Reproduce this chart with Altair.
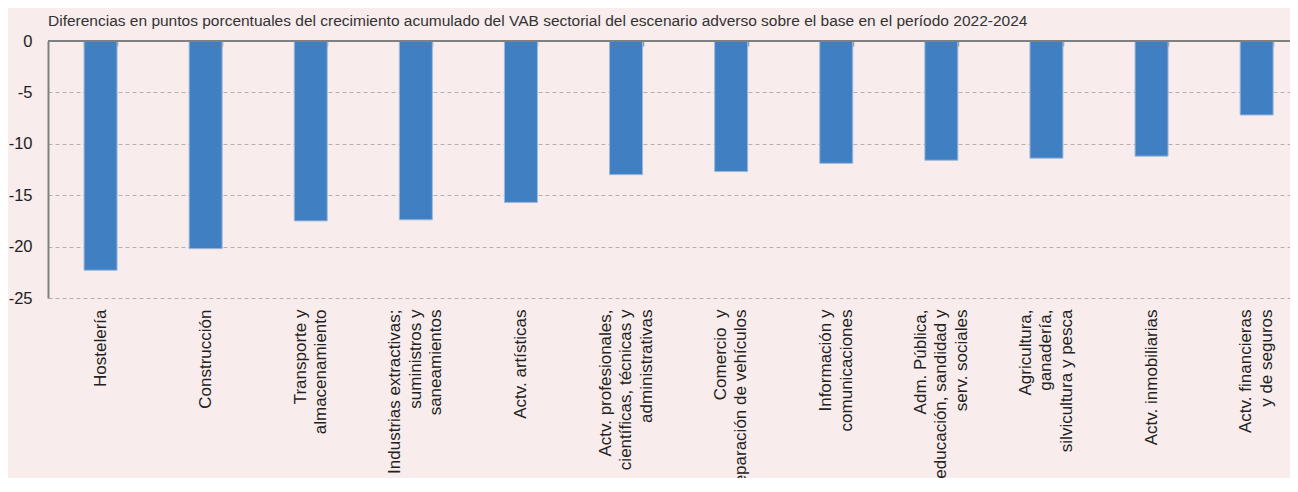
import altair as alt
import pandas as pd

categories = [
    "Hostelería",
    "Construcción",
    "Transporte y|almacenamiento",
    "Industrias extractivas;|suministros y|saneamientos",
    "Actv. artísticas",
    "Actv. profesionales,|científicas, técnicas y|administrativas",
    "Comercio \u00a0y|reparación de vehículos",
    "Información y|comunicaciones",
    "Adm. Pública,|educación, sandidad y|serv. sociales",
    "Agricultura,|ganadería,|silvicultura y pesca",
    "Actv. inmobiliarias",
    "Actv. financieras|y de seguros",
]
values = [-22.3, -20.2, -17.5, -17.4, -15.7, -13.0, -12.7, -11.9, -11.6, -11.4, -11.2, -7.2]
y_ticks = [0, -5, -10, -15, -20, -25]

title_text = ("Diferencias en puntos porcentuales del crecimiento acumulado del VAB sectorial "
              "del escenario adverso sobre el base en el período 2022-2024")

df = pd.DataFrame({"sector": categories, "valor": values})

FONT = "Liberation Sans"
BG = "#F8ECEC"
STEP = 105.1
LH = 20.5

xscale = alt.Scale(range=[0, STEP * len(categories)], paddingInner=0.686, paddingOuter=0.343)
yscale = alt.Scale(domain=[-25, 0], nice=False, zero=False)

yaxis = alt.Axis(values=y_ticks, title=None, ticks=False, tickSize=0,
                 labelPadding=16, labelFontSize=16.5, labelColor="#222222",
                 labelFont=FONT, labelExpr="toString(datum.value)",
                 domainColor="#808080", domainWidth=2,
                 grid=True, gridColor="#B5B0B0", gridDash=[4, 3], gridWidth=1)

nlines = "length(split(datum.value, '|'))"
label_offset = {
    "condition": [
        {"test": f"{nlines} == 3", "value": -LH},
        {"test": f"{nlines} == 2", "value": -LH / 2},
    ],
    "value": 0,
}

base = alt.Chart(df)

bars = base.mark_bar(color="#4080C2", stroke="#9DB9DD", strokeWidth=1).encode(
    x=alt.X("sector:N", sort=None, scale=xscale,
            axis=alt.Axis(orient="bottom", title=None, domain=False, ticks=False,
                          labelAngle=-90, labelPadding=11, labelFontSize=17,
                          labelLineHeight=LH, labelLimit=500, labelOverlap=False,
                          labelColor="#222222", labelFont=FONT,
                          labelOffset=label_offset,
                          labelExpr="split(datum.label, '|')")),
    y=alt.Y("valor:Q", scale=yscale, axis=yaxis),
)

ghost = base.mark_point(opacity=0).encode(
    x=alt.X("sector:N", sort=None, scale=xscale,
            axis=alt.Axis(orient="top", title=None, labels=False, domain=False,
                          ticks=True, tickBand="extent", tickSize=5, offset=-5,
                          minExtent=0, maxExtent=0,
                          tickColor="#999999", tickWidth=1.5, grid=False)),
    y=alt.Y("valor:Q", scale=yscale, axis=yaxis),
)

zero = alt.Chart(pd.DataFrame({"z": [0]})).mark_rule(color="#808080", strokeWidth=2).encode(
    y=alt.Y("z:Q", scale=yscale, axis=yaxis)
)

chart = alt.layer(bars, ghost, zero).resolve_axis(x="independent").properties(
    width=1242,
    height=257,
    title=alt.TitleParams(title_text, anchor="start", frame="group", fontSize=15.5,
                          font=FONT, fontWeight="normal", color="#333333",
                          offset=4),
    autosize=alt.AutoSizeParams(type="none"),
    padding={"left": 40, "top": 33, "right": 0, "bottom": 180},
    background=BG,
).configure_view(stroke=None)

chart.save("out.html", embed_options={"renderer": "svg", "actions": False})
